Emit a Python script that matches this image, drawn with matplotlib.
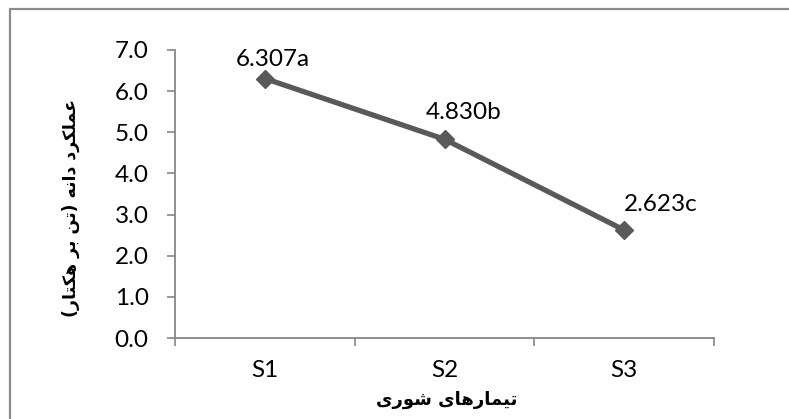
import matplotlib.pyplot as plt
from matplotlib.patches import Rectangle

# Grain yield under salinity treatments
treatments = ["S1", "S2", "S3"]
grain_yield = [6.307, 4.830, 2.623]
groups = ["a", "b", "c"]
y_ticks = [0.0, 1.0, 2.0, 3.0, 4.0, 5.0, 6.0, 7.0]

# Persian axis titles, written with pre-joined presentation forms in visual order
# logical: "عملکرد دانه (تن بر هکتار)"
y_title = ("(" + "\uFEAD\uFE8E\uFE98\uFB91\uFEEB" + " " + "\uFEAE\uFE91" + " "
           + "\uFEE6\uFE97" + ")" + " " + "\uFEEA\uFEE7\uFE8D\uFEA9" + " "
           + "\uFEA9\uFEAE\uFB91\uFEE0\uFEE4\uFECB")
# logical: "تیمارهای شوری"
x_title = ("\uFBFC\uFEAD\uFEEE\uFEB7" + " "
           + "\uFBFC\uFE8E\uFEEB\uFEAD\uFE8E\uFEE4\uFBFF\uFE97")

# label nudges in points (dx, dy)
label_offsets = [(5.5, 14), (13.5, 19), (26, 18.5)]

plt.rcParams["font.family"] = ["Lato", "DejaVu Sans"]

fig = plt.figure(figsize=(7.89, 4.19), dpi=100)
ax = fig.add_axes([0.2218, 0.1933, 0.6832, 0.6874])

line_col = "#595959"
axis_col = "#868686"

x = list(range(len(treatments)))
ax.plot(x, grain_yield, color=line_col, lw=3.8, marker="D", ms=9.5,
        mfc=line_col, mec=line_col, solid_capstyle="round")

for xi, v, g, (dx, dy) in zip(x, grain_yield, groups, label_offsets):
    ax.annotate(f"{v:.3f}{g}", (xi, v), xytext=(dx, dy), textcoords="offset points",
                ha="center", va="center", fontsize=17.5, color="black")

ax.set_xlim(-0.5, len(treatments) - 0.5)
ax.set_ylim(0, 7)
ax.set_yticks(y_ticks)
ax.set_yticklabels([f"{t:.1f}" for t in y_ticks])
ax.set_xticks(x)
ax.set_xticklabels(treatments)
ax.set_xticks([i - 0.5 for i in range(len(treatments) + 1)], minor=True)

ax.tick_params(axis="y", length=6, width=1.2, color=axis_col, pad=13,
               labelsize=17.5, labelcolor="black")
ax.tick_params(axis="x", which="major", length=0, pad=16,
               labelsize=17.5, labelcolor="black")
ax.tick_params(axis="x", which="minor", length=6, width=1.2, color=axis_col)

for s in ("top", "right"):
    ax.spines[s].set_visible(False)
for s in ("left", "bottom"):
    ax.spines[s].set_color(axis_col)
    ax.spines[s].set_linewidth(1.3)

fig.text(0.5665, 0.045, x_title, ha="center", va="center", fontsize=13,
         fontweight="bold", family=["DejaVu Sans"])
fig.text(0.09, 0.503, y_title, ha="center", va="center", rotation=90,
         fontsize=12.5, fontweight="bold", family=["DejaVu Sans"])

# chart frame (runs off the right and bottom edges)
fig.patches.append(Rectangle((9.5 / 789, -0.1), 1.2, 1.1 - 9.5 / 419,
                             transform=fig.transFigure, fill=False,
                             edgecolor="#8c8c8c", lw=1.6))

fig.savefig("out.png", dpi=100)
